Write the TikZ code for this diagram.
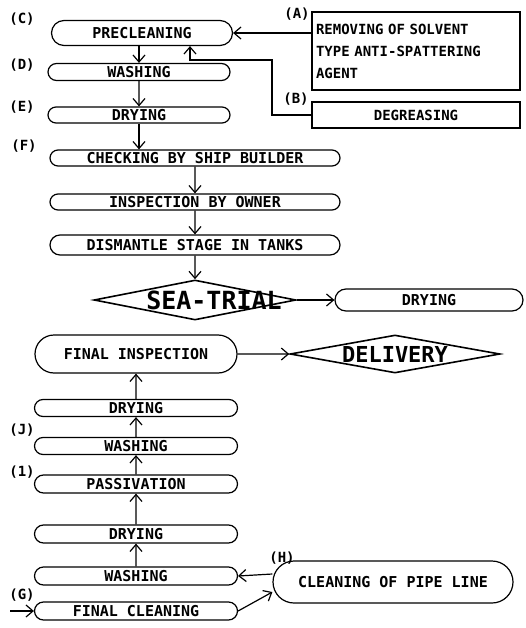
\documentclass[tikz,border=0pt]{standalone}
\usepackage{fontspec}
\setmainfont{DejaVu Sans Mono}
\usetikzlibrary{arrows.meta}
\usetikzlibrary{shapes.misc}
\usetikzlibrary{shapes.geometric}

\tikzset{
  stage/.style={draw, rounded rectangle, inner sep=0pt, minimum height=17pt,
    font=\bfseries\fontsize{15}{15}\selectfont},
  decision/.style={draw, diamond, inner sep=0pt, line width=1.6pt},
  bigword/.style={font=\bfseries\fontsize{#1}{#1}\selectfont},
  notebox/.style={draw, rectangle, inner sep=4pt, text width=200pt,
    font=\bfseries\fontsize{14}{22}\selectfont},
  tag/.style={font=\bfseries\fontsize{14}{14}\selectfont}
}

\begin{document}
\begin{tikzpicture}[x=1pt, y=-1pt, line width=1.2pt,
  >={Straight Barb[length=7pt,width=12pt]}]
\useasboundingbox (0,0) rectangle (526,628);

% upper chain
\node[stage, minimum width=181pt, minimum height=25pt] (pre) at (142,33) {PRECLEANING};
\node[stage, minimum width=182pt] (wash1) at (139,72) {WASHING};
\node[stage, minimum width=182pt, minimum height=16pt] (dry1) at (139,115) {DRYING};
\node[stage, minimum width=290pt, minimum height=16pt] (check) at (195,158) {CHECKING BY SHIP BUILDER};
\node[stage, minimum width=290pt, minimum height=16pt] (insp) at (195,202) {INSPECTION BY OWNER};
\node[stage, minimum width=290pt, minimum height=20pt] (dism) at (195,245) {DISMANTLE STAGE IN TANKS};
\node[decision, minimum width=202pt, minimum height=40pt,
  label={[bigword=25, xshift=19pt]center:SEA-TRIAL}] (sea) at (195,300) {};
\node[stage, minimum width=188pt, minimum height=22pt] (dry2) at (429,300) {DRYING};

% side boxes
\node[notebox, minimum height=78pt, align=left] (solvent) at (416,51)
  {REMOVING OF SOLVENT\\TYPE ANTI-SPATTERING\\AGENT};
\node[notebox, minimum height=26pt, align=center] (degr) at (416,115) {DEGREASING};
\coordinate (bend) at (272,60);

% lower chain
\node[stage, minimum width=202pt, minimum height=38pt] (fin) at (136,354) {FINAL INSPECTION};
\node[decision, minimum width=210pt, minimum height=38pt,
  label={[bigword=22]center:DELIVERY}] (deliv) at (395,354) {};
\node[stage, minimum width=203pt] (dry3) at (136,408) {DRYING};
\node[stage, minimum width=203pt] (wash3) at (136,446) {WASHING};
\node[stage, minimum width=203pt, minimum height=18pt] (pass) at (136,484) {PASSIVATION};
\node[stage, minimum width=203pt, minimum height=18pt] (dry4) at (136,534) {DRYING};
\node[stage, minimum width=203pt, minimum height=18pt] (wash4) at (136,576) {WASHING};
\node[stage, minimum width=203pt, minimum height=18pt] (fclean) at (136,611) {FINAL CLEANING};
\node[stage, minimum width=240pt, minimum height=42pt] (pipe) at (393,582) {CLEANING OF PIPE LINE};
\coordinate (feed) at (10,611);

% letters
\node[tag] (tagC) at (22,19) {(C)};
\node[tag] (tagD) at (22,65) {(D)};
\node[tag] (tagE) at (22,107) {(E)};
\node[tag] (tagF) at (24,146) {(F)};
\node[tag] (tagA) at (297,14) {(A)};
\node[tag] (tagB) at (296,99) {(B)};
\node[tag] (tagJ) at (22,430) {(J)};
\node[tag] (tagI) at (22,472) {(1)};
\node[tag] (tagH) at (282,558) {(H)};
\node[tag] (tagG) at (22,595) {(G)};

% connectors
\draw[->] (solvent.west |- pre.east) -- (pre.east);
\draw[->] (degr.west) -| (bend) -| ([xshift=48pt]pre.south);
\draw[->] (pre.south -| wash1.north) -- (wash1.north);
\draw[->] (wash1) -- (dry1);
\draw[->] (dry1.south) -- (dry1.south |- check.north);
\draw[->] (check) -- (insp);
\draw[->] (insp) -- (dism);
\draw[->] (dism) -- (sea);
\draw[->] (sea) -- (dry2);
\draw[->] (fin) -- (deliv);
\draw[->] (dry3) -- (fin);
\draw[->] (wash3) -- (dry3);
\draw[->] (pass) -- (wash3);
\draw[->] (dry4) -- (pass);
\draw[->] (wash4) -- (dry4);
\draw[->] (feed) -- (fclean);
\draw[->] (fclean.east) -- ([yshift=-10pt]pipe.west);
\draw[->] ([yshift=8pt]pipe.west) -- (wash4.east);
\end{tikzpicture}
\end{document}
